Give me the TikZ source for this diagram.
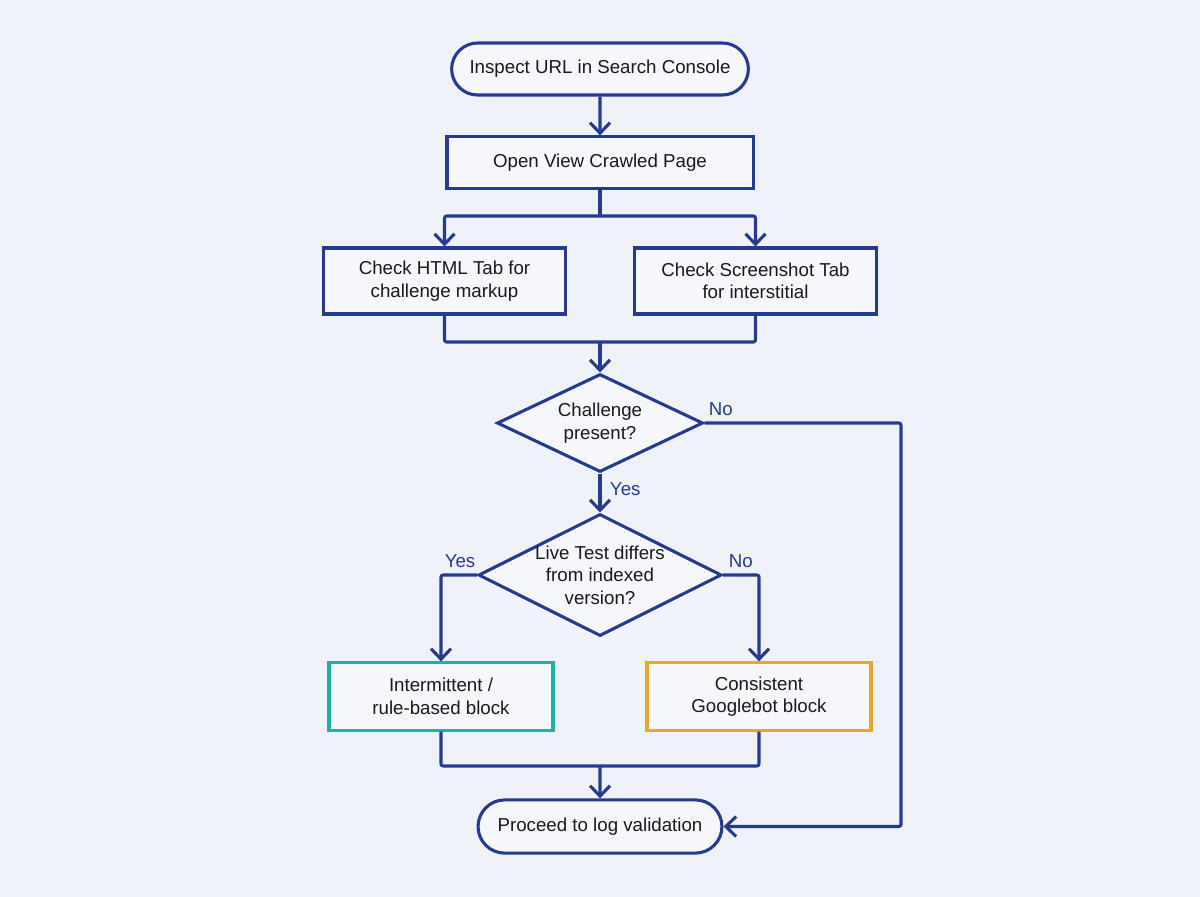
\documentclass[tikz,border=0pt]{standalone}
\usepackage{fontspec}
\setmainfont{Liberation Sans}
\usetikzlibrary{arrows.meta,positioning,shapes.geometric,shapes.misc}
\definecolor{navy}{RGB}{38,58,146}
\definecolor{sea}{RGB}{28,178,164}
\definecolor{amber}{RGB}{240,162,48}
\definecolor{paper}{RGB}{239,242,248}
\definecolor{ink}{RGB}{25,25,32}
\newcommand{\flowfont}{\fontsize{13.3}{16}\selectfont}
\tikzset{
  >={Straight Barb[length=2.6mm,width=5mm]},
  term/.style={rounded rectangle,draw=navy,line width=2.2pt,fill=white!40!paper,
    text=ink,minimum height=13mm,font=\flowfont},
  box/.style={draw=#1,line width=2.2pt,fill=white!40!paper,text=ink,
    align=center,font=\flowfont},
  box/.default=navy,
  decision/.style={diamond,draw=navy,line width=2.2pt,fill=white!40!paper,
    text=ink,align=center,font=\flowfont,aspect=2,inner sep=-2.5mm},
  wire/.style={draw=navy,line width=2.2pt,rounded corners=1.5pt,line join=round},
  flow/.style={wire,->},
  tag/.style={text=navy,font=\flowfont,inner sep=2pt},
}

\begin{document}
\begin{tikzpicture}[x=0.025cm,y=-0.025cm]
    \useasboundingbox (0,0) rectangle (1200,896);
    \fill[paper] (-10,-10) rectangle (1210,906);
    % steps
    \node[term,minimum width=76.5mm] (inspect) at (600,69) {Inspect URL in Search Console};
    \node[box,minimum width=76.5mm,minimum height=12.8mm] (open) at (600,162.5) {Open View Crawled Page};
    \node[box,minimum width=60.3mm,minimum height=16.5mm] (html) at (444.5,281) {Check HTML Tab for\\challenge markup};
    \node[box,minimum width=60.3mm,minimum height=16.5mm] (shot) at (755.5,281) {Check Screenshot Tab\\for interstitial};
    \node[decision,minimum width=51.5mm,minimum height=24.5mm] (chal) at (600,423) {Challenge\\present?};
    \node[decision,minimum width=60.8mm,minimum height=30.5mm] (live) at (600,575) {Live Test differs\\from indexed\\version?};
    \node[box=sea,minimum width=56mm,minimum height=16.8mm] (inter) at (441,696.5) {Intermittent /\\rule-based block};
    \node[box=amber,minimum width=56mm,minimum height=16.8mm] (cons) at (759,696.5) {Consistent\\Googlebot block};
    \node[term,minimum width=63.3mm,minimum height=13.3mm] (done) at (600,826.5) {Proceed to log validation};
    % junctions
    \coordinate (split) at (600,216);
    \coordinate (join) at (600,342);
    \coordinate (rail) at (901,423);
    \coordinate (meet) at (600,766);
    % connectors
    \draw[flow] (inspect) -- (open);
    \draw[wire] (open) -- (split);
    \draw[flow] (split) -| (html);
    \draw[flow] (split) -| (shot);
    \draw[wire] (html) |- (join);
    \draw[wire] (shot) |- (join);
    \draw[flow] (join) -- (chal);
    \draw[flow] (chal.east) node[tag,above right,yshift=2pt] {No} -- (rail) |- (done.east);
    \draw[flow] (chal) -- node[tag,right,xshift=4pt,yshift=3pt] {Yes} (live);
    \draw[flow] (live.west) node[tag,above left,yshift=2pt,xshift=2pt] {Yes} -| (inter);
    \draw[flow] (live.east) node[tag,above right,yshift=2pt,xshift=1pt] {No} -| (cons);
    \draw[wire] (inter) |- (meet);
    \draw[wire] (cons) |- (meet);
    \draw[flow] (meet) -- (done);
\end{tikzpicture}
\end{document}
